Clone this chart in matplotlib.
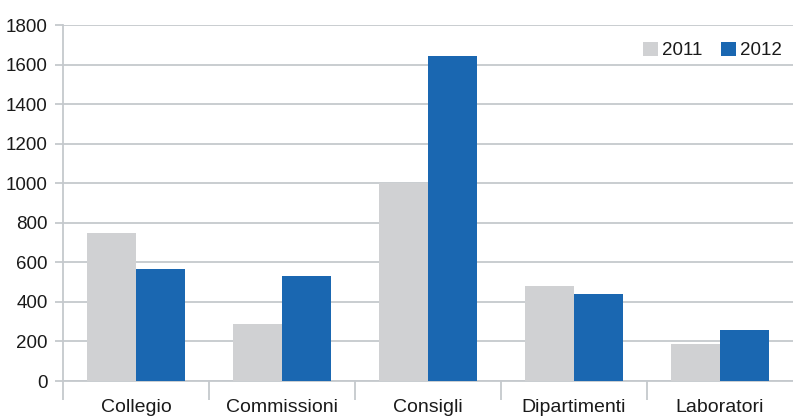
import matplotlib
matplotlib.use("Agg")
import matplotlib.pyplot as plt
import numpy as np

categories = ["Collegio", "Commissioni", "Consigli", "Dipartimenti", "Laboratori"]
values_2011 = [750, 290, 1000, 480, 185]
values_2012 = [565, 530, 1645, 440, 258]
series_labels = ["2011", "2012"]
yticks = [0, 200, 400, 600, 800, 1000, 1200, 1400, 1600, 1800]

plt.rcParams['font.family'] = ["Liberation Sans", "DejaVu Sans"]

GRAY = "#d0d1d3"
BLUE = "#1a67b1"
GRID = "#c5c9cd"
TEXT = "#1a1a1a"

fig = plt.figure(figsize=(7.93, 4.17), dpi=100)
ax = fig.add_axes([63/793, 36/417, 730/793, 356/417])

x = np.arange(len(categories))
w = 0.335
ax.bar(x - w/2, values_2011, width=w, color=GRAY, label=series_labels[0], zorder=3)
ax.bar(x + w/2, values_2012, width=w, color=BLUE, label=series_labels[1], zorder=3)

ax.set_xlim(-0.5, len(categories) - 0.5)
ax.set_ylim(0, 1800)
ax.set_yticks(yticks)
ax.set_yticklabels([str(v) for v in yticks], fontsize=13.5, color=TEXT)
ax.yaxis.grid(True, color=GRID, linewidth=1.3, zorder=0)
ax.set_axisbelow(True)

ax.set_xticks(x)
ax.set_xticklabels(categories, fontsize=14, color=TEXT)
ax.set_xticks(np.arange(-0.5, len(categories) - 0.5, 1.0), minor=True)
ax.tick_params(axis='x', which='major', length=0, pad=13)
ax.tick_params(axis='x', which='minor', length=14, color=GRID, width=1.3)
ax.tick_params(axis='y', which='major', length=6, color=GRID, width=1.3, pad=5)

for s in ["top", "right"]:
    ax.spines[s].set_visible(False)
for s in ["left", "bottom"]:
    ax.spines[s].set_color(GRID)
    ax.spines[s].set_linewidth(1.3)

leg = ax.legend(loc="upper right", bbox_to_anchor=(1.0, 0.985), ncol=2, frameon=False,
                fontsize=13.5, handlelength=0.8, handleheight=0.8, handletextpad=0.2,
                columnspacing=1.0, borderaxespad=0.2)
for t in leg.get_texts():
    t.set_color(TEXT)

fig.savefig("out.png", dpi=100)
